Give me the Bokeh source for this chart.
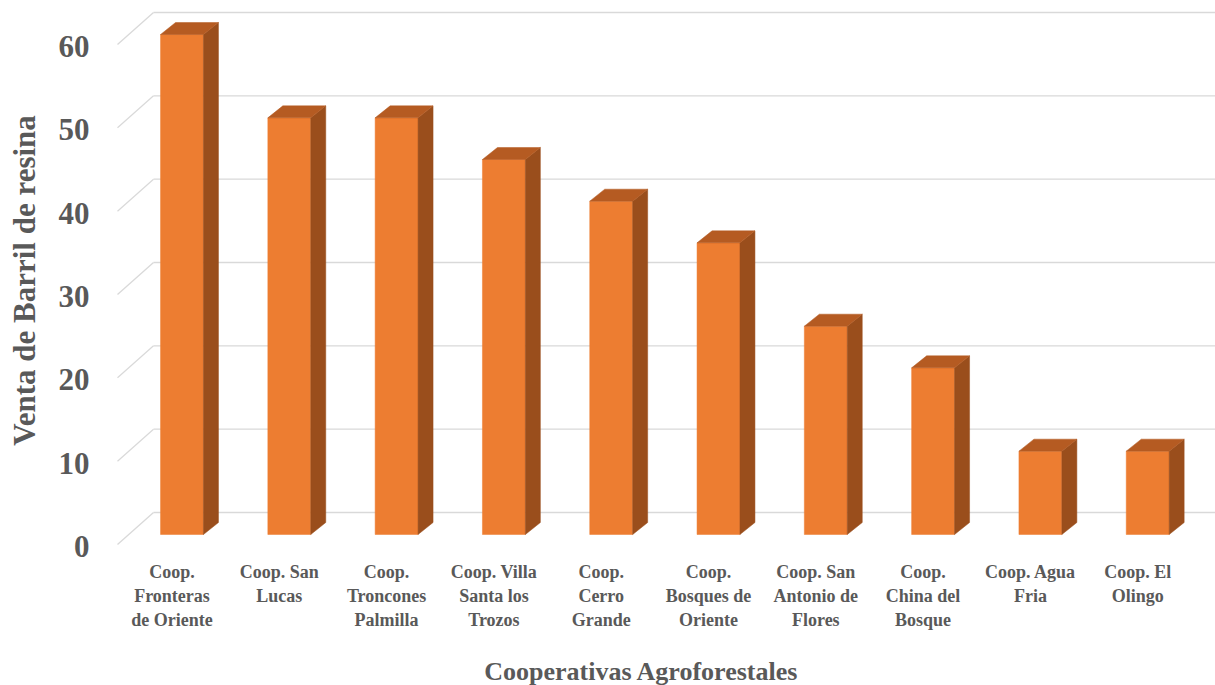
import math
from bokeh.plotting import figure
from bokeh.models import Range1d
from bokeh.core.properties import value
from bokeh.embed import file_html
from bokeh.resources import INLINE

# ---- data ----
categories = [
    "Coop.\nFronteras\nde Oriente",
    "Coop. San\nLucas",
    "Coop.\nTroncones\nPalmilla",
    "Coop. Villa\nSanta los\nTrozos",
    "Coop.\nCerro\nGrande",
    "Coop.\nBosques de\nOriente",
    "Coop. San\nAntonio de\nFlores",
    "Coop.\nChina del\nBosque",
    "Coop. Agua\nFria",
    "Coop. El\nOlingo",
]
values = [60, 50, 50, 45, 40, 35, 25, 20, 10, 10]
y_ticks = [0, 10, 20, 30, 40, 50, 60]
y_tick_labels = ["0", "10", "20", "30", "40", "50", "60"]
x_title = "Cooperativas Agroforestales"
y_title = "Venta de Barril de resina"

# ---- layout / styles ----
W, H = 1215, 685
PXX = 107.3      # pixels per category
PXY = 8.333      # pixels per value unit
X0PX = 181.5     # pixel x of first category centre
Y0PX = 534.0     # pixel y of value 0 on bar front


def dx(px):
    return (px - X0PX) / PXX


def dy(py):
    return (Y0PX - py) / PXY


FONT = value("Liberation Serif")
TXT = "#595959"
FRONT = "#ED7D31"
TOP = "#B55B22"
SIDE = "#9A4E1C"
GRID = "#D9D9D9"

HALF = 0.2                 # half bar width (category units)
DEPTH_X = 15 / PXX         # bar depth offset x
DEPTH_Y = 12 / PXY         # bar depth offset y
BACK_X = dx(153)           # back wall left x
BACK_Y = 22 / PXY          # back wall rise
FRONT_X = dx(117)          # front floor edge left x
FRONT_Y = -10 / PXY        # front floor edge drop

p = figure(width=W, height=H, output_backend="svg", toolbar_location=None,
           x_range=Range1d(dx(0), dx(W)), y_range=Range1d(dy(H), dy(0)),
           x_axis_type=None, y_axis_type=None, min_border=0)
p.outline_line_color = None
p.grid.visible = False
p.background_fill_color = "white"
p.border_fill_color = "white"

# gridlines (back wall + slanted side wall)
xs, ys = [], []
for t in y_ticks:
    xs.append([BACK_X, dx(W) + 1])
    ys.append([t + BACK_Y, t + BACK_Y])
    xs.append([FRONT_X, BACK_X])
    ys.append([t + FRONT_Y, t + BACK_Y])
p.multi_line(xs, ys, line_color=GRID, line_width=1.3)

# bars
n = len(values)
idx = list(range(n))
p.quad(left=[i - HALF for i in idx], right=[i + HALF for i in idx],
       bottom=[0] * n, top=values, fill_color=FRONT, line_color=FRONT, line_width=0.5)
side_x, side_y, top_x, top_y = [], [], [], []
for i, v in zip(idx, values):
    r = i + HALF
    l = i - HALF
    side_x.append([r, r + DEPTH_X, r + DEPTH_X, r])
    side_y.append([0, DEPTH_Y, v + DEPTH_Y, v])
    top_x.append([l, l + DEPTH_X, r + DEPTH_X, r])
    top_y.append([v, v + DEPTH_Y, v + DEPTH_Y, v])
p.patches(side_x, side_y, fill_color=SIDE, line_color=SIDE, line_width=0.5)
p.patches(top_x, top_y, fill_color=TOP, line_color=TOP, line_width=0.5)

# y tick labels
p.text(x=[dx(89)] * len(y_ticks), y=[t + FRONT_Y - 0.25 for t in y_ticks],
       text=y_tick_labels, text_font=FONT, text_font_style="bold",
       text_font_size="31px", text_color=TXT, text_align="right",
       text_baseline="middle")

# x category labels (one glyph per line of text)
lx, ly, lt = [], [], []
for i, c in enumerate(categories):
    for k, line in enumerate(c.split("\n")):
        lx.append(i - 10 / PXX)
        ly.append(dy(571 + 24 * k))
        lt.append(line)
p.text(x=lx, y=ly, text=lt, text_font=FONT, text_font_style="bold",
       text_font_size="18px", text_color=TXT, text_align="center",
       text_baseline="middle")

# axis titles
p.text(x=[dx(641)], y=[dy(671)], text=[x_title], text_font=FONT,
       text_font_style="bold", text_font_size="26px", text_color=TXT,
       text_align="center", text_baseline="middle")
p.text(x=[dx(24)], y=[dy(280)], text=[y_title], text_font=FONT,
       text_font_style="bold", text_font_size="31px", text_color=TXT,
       text_align="center", text_baseline="middle", angle=math.pi / 2)

open("out.html", "w").write(file_html(p, INLINE))
